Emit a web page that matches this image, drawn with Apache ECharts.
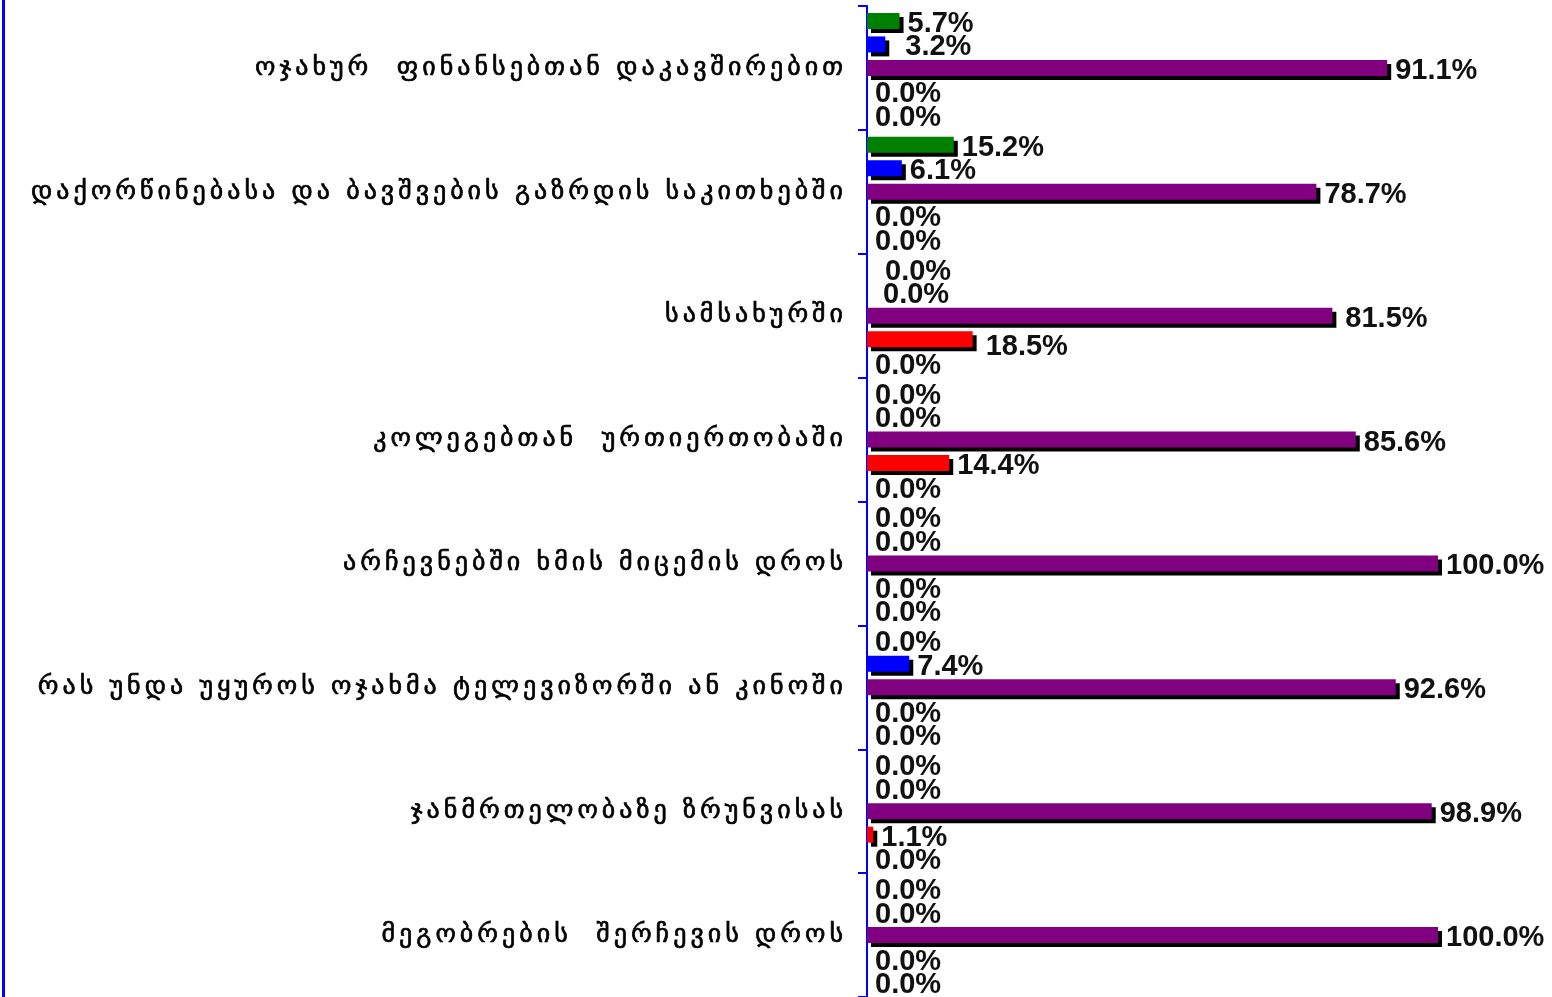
<!DOCTYPE html>
<html>
<head>
<meta charset="utf-8">
<script src="https://cdn.jsdelivr.net/npm/echarts@6/dist/echarts.min.js"></script>
<style>
  html, body { margin: 0; padding: 0; background: #fff; }
  #chart { width: 1552px; height: 997px; }
</style>
</head>
<body>
<div id="chart"></div>
<script>
// Situations (top to bottom)
const categories = [
  'ოჯახურ  ფინანსებთან დაკავშირებით',
  'დაქორწინებასა და ბავშვების გაზრდის საკითხებში',
  'სამსახურში',
  'კოლეგებთან  ურთიერთობაში',
  'არჩევნებში ხმის მიცემის დროს',
  'რას უნდა უყუროს ოჯახმა ტელევიზორში ან კინოში',
  'ჯანმრთელობაზე ზრუნვისას',
  'მეგობრების  შერჩევის დროს'
];

// Percentages per answer group
const greenValues  = [5.7, 15.2, 0.0, 0.0, 0.0, 0.0, 0.0, 0.0];
const blueValues   = [3.2, 6.1, 0.0, 0.0, 0.0, 7.4, 0.0, 0.0];
const purpleValues = [91.1, 78.7, 81.5, 85.6, 100.0, 92.6, 98.9, 100.0];
const redValues    = [0.0, 0.0, 18.5, 14.4, 0.0, 0.0, 1.1, 0.0];
const otherValues  = [0.0, 0.0, 0.0, 0.0, 0.0, 0.0, 0.0, 0.0];

const seriesColors = ['#008000', '#0000FF', '#800080', '#FF0000', '#00FFFF'];
const seriesData = [greenValues, blueValues, purpleValues, redValues, otherValues];
const seriesNames = ['g1', 'g2', 'g3', 'g4', 'g5'];

// A few value labels sit slightly away from their default spot: 'series:category' -> [dx, dy]
const labelNudge = {
  '1:0': [12, 3],
  '0:2': [10, 3],
  '1:2': [8, 3],
  '2:2': [5, 3],
  '3:2': [5, 8]
};

const chart = echarts.init(document.getElementById('chart'), null, { renderer: 'canvas' });

// Category labels are set letter by letter so they get a little tracking
const spaced = text => Array.from(text).map(ch => '{c|' + ch + '}').join('');

const series = seriesData.map((vals, i) => ({
  name: seriesNames[i],
  type: 'bar',
  data: vals.map((v, j) => {
    const nudge = labelNudge[i + ':' + j];
    return nudge ? { value: v, label: { offset: nudge } } : v;
  }),
  barWidth: 16,
  barGap: '47%',
  itemStyle: {
    color: seriesColors[i],
    shadowColor: '#000',
    shadowBlur: 0,
    shadowOffsetX: 4,
    shadowOffsetY: 4
  },
  label: {
    show: true,
    position: 'right',
    distance: 8,
    offset: [0, 3],
    color: '#111',
    fontFamily: '"Liberation Sans", Arial, sans-serif',
    fontWeight: 'bold',
    fontSize: 29,
    formatter: p => p.value.toFixed(1) + '%'
  },
  animation: false
}));

chart.setOption({
  animation: false,
  grid: { left: 867, top: 6, width: 571, height: 992, containLabel: false },
  xAxis: {
    type: 'value',
    min: 0,
    max: 100,
    show: false
  },
  yAxis: {
    type: 'category',
    data: categories,
    inverse: true,
    axisLine: { show: true, lineStyle: { color: '#0000FF', width: 2 } },
    axisTick: { show: true, length: 9, lineStyle: { color: '#0000FF', width: 2 } },
    axisLabel: {
      margin: 22,
      formatter: spaced,
      rich: {
        c: {
          color: '#000',
          fontFamily: '"DejaVu Sans", sans-serif',
          fontSize: 26,
          textBorderColor: '#000',
          textBorderWidth: 0.7,
          padding: [0, 2.0, 0, 2.0]
        }
      }
    },
    splitLine: { show: false }
  },
  graphic: [{
    type: 'line',
    shape: { x1: 3.5, y1: 0, x2: 3.5, y2: 997 },
    style: { stroke: '#0000FF', lineWidth: 3 }
  }],
  series: series
});
</script>
</body>
</html>
